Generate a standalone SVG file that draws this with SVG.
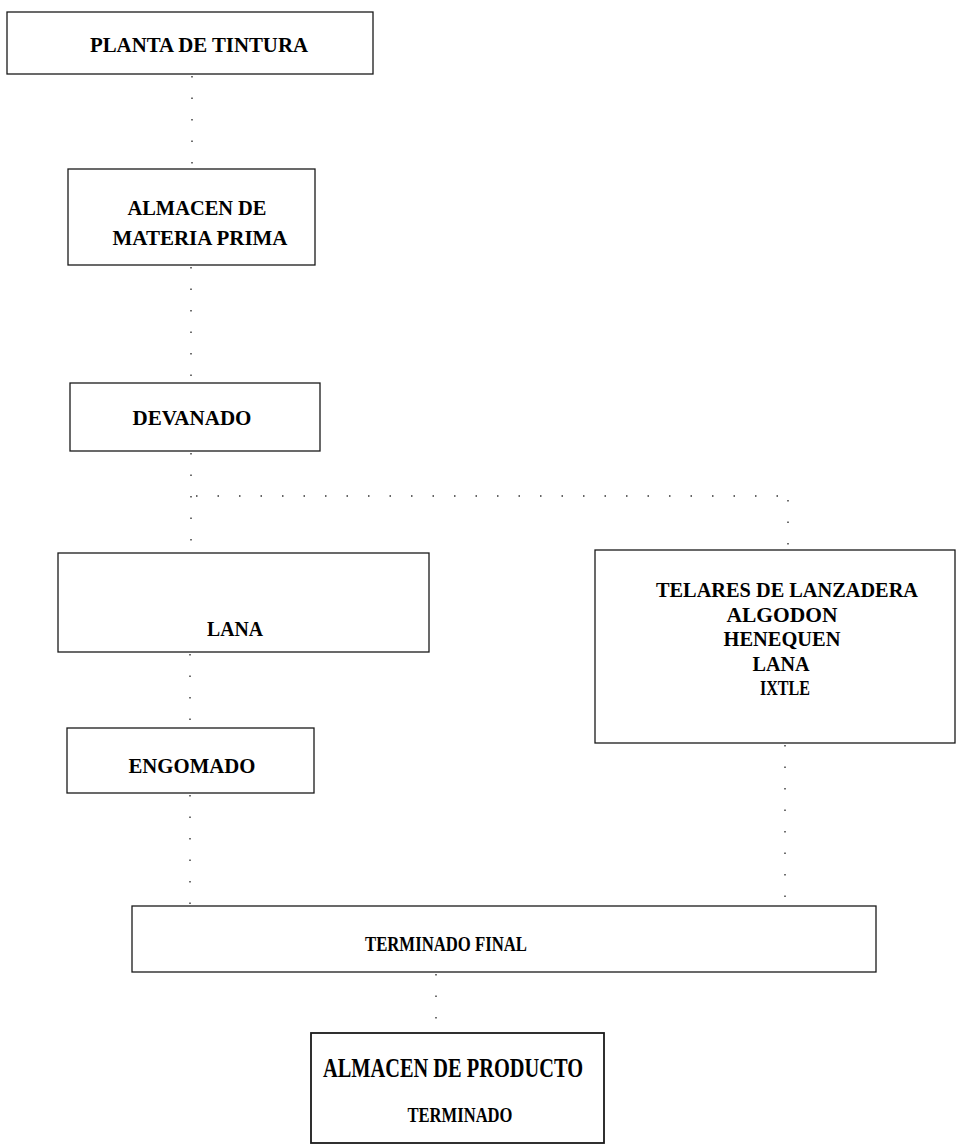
<svg xmlns="http://www.w3.org/2000/svg" width="957" height="1145" viewBox="0 0 957 1145">
<style>
.box{fill:#fff;stroke:#1a1a1a;stroke-width:1.3}
.t{font-family:"Liberation Serif","Times New Roman",serif;font-weight:bold;fill:#000;text-anchor:middle;font-size:22px}
.c{fill:none;stroke:#333;stroke-width:1.4;stroke-dasharray:1.5 20}
</style>
<rect width="957" height="1145" fill="#fff"/>
<g id="connectors">
<line class="c" x1="192" y1="76" x2="192" y2="168"/>
<line class="c" x1="191" y1="267" x2="191" y2="382"/>
<line class="c" x1="191" y1="453" x2="191" y2="552"/>
<line class="c" x1="196" y1="496" x2="790" y2="496"/>
<line class="c" x1="788" y1="500" x2="788" y2="549"/>
<line class="c" x1="190" y1="654" x2="190" y2="727"/>
<line class="c" x1="190" y1="795" x2="190" y2="905"/>
<line class="c" x1="785" y1="745" x2="785" y2="905"/>
<line class="c" x1="436" y1="974" x2="436" y2="1032"/>
</g>
<g id="planta">
<rect class="box" x="7" y="12" width="366" height="62"/>
<text class="t" x="199" y="52" textLength="218" lengthAdjust="spacingAndGlyphs">PLANTA DE TINTURA</text>
</g>
<g id="almacen-mp">
<rect class="box" x="68" y="169" width="247" height="96"/>
<text class="t" x="197" y="215" textLength="139" lengthAdjust="spacingAndGlyphs">ALMACEN DE</text>
<text class="t" x="200" y="245" textLength="175" lengthAdjust="spacingAndGlyphs">MATERIA PRIMA</text>
</g>
<g id="devanado">
<rect class="box" x="70" y="383" width="250" height="68"/>
<text class="t" x="192" y="425" textLength="119" lengthAdjust="spacingAndGlyphs">DEVANADO</text>
</g>
<g id="lana">
<rect class="box" x="58" y="553" width="371" height="99"/>
<text class="t" x="235" y="636" textLength="56" lengthAdjust="spacingAndGlyphs">LANA</text>
</g>
<g id="telares">
<rect class="box" x="595" y="550" width="360" height="193"/>
<text class="t" x="787" y="597" textLength="262" lengthAdjust="spacingAndGlyphs">TELARES DE LANZADERA</text>
<text class="t" x="782" y="622" textLength="111" lengthAdjust="spacingAndGlyphs">ALGODON</text>
<text class="t" x="782" y="646" textLength="117" lengthAdjust="spacingAndGlyphs">HENEQUEN</text>
<text class="t" x="781" y="671" textLength="57" lengthAdjust="spacingAndGlyphs">LANA</text>
<text class="t" x="785" y="695" textLength="50" lengthAdjust="spacingAndGlyphs">IXTLE</text>
</g>
<g id="engomado">
<rect class="box" x="67" y="728" width="247" height="65"/>
<text class="t" x="192" y="773" textLength="127" lengthAdjust="spacingAndGlyphs">ENGOMADO</text>
</g>
<g id="terminado-final">
<rect class="box" x="132" y="906" width="744" height="66"/>
<text class="t" x="446" y="951" textLength="162" lengthAdjust="spacingAndGlyphs" style="font-size:21px">TERMINADO FINAL</text>
</g>
<g id="almacen-pt">
<rect class="box" x="311" y="1033" width="293" height="110" style="stroke-width:1.8"/>
<text class="t" x="453" y="1077" textLength="260" lengthAdjust="spacingAndGlyphs" style="font-size:28px">ALMACEN DE PRODUCTO</text>
<text class="t" x="460" y="1122" textLength="105" lengthAdjust="spacingAndGlyphs" style="font-size:21px">TERMINADO</text>
</g>
</svg>
